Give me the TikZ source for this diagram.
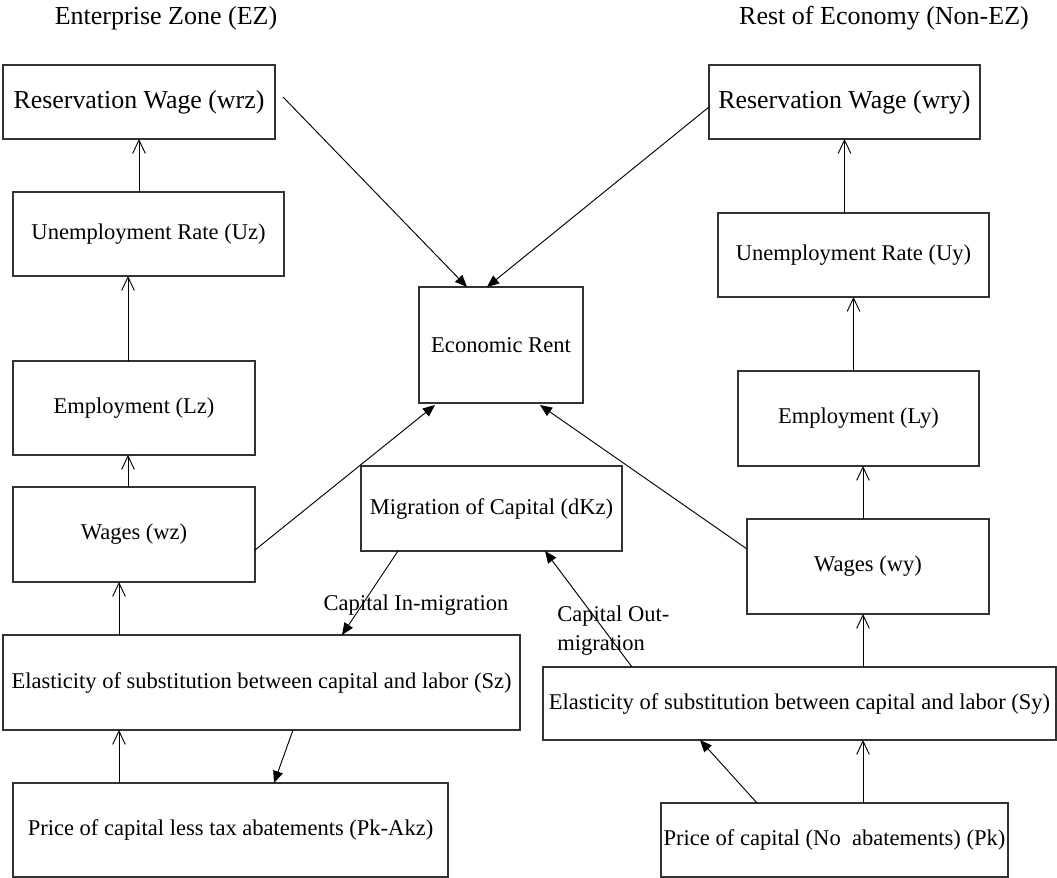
\documentclass[tikz,border=0pt]{standalone}
\usepackage{fontspec}
\setmainfont{Liberation Serif}
\usetikzlibrary{arrows.meta,calc}
\begin{document}
\begin{tikzpicture}[x=0.75pt,y=-0.75pt,
  box/.style={draw=black!80,line width=1pt,rectangle,inner sep=0pt,outer sep=0pt,align=center,font=\fontsize{16.9}{20}\selectfont},
  rwbox/.style={box,font=\fontsize{19.4}{23}\selectfont},
  oarr/.style={draw=black,line width=0.7pt,-{Straight Barb[length=10pt,width=9.5pt,line width=0.7pt]}},
  farr/.style={draw=black,line width=0.7pt,-{Triangle[length=9pt,width=7.5pt]}},
  lbl/.style={inner sep=0pt,font=\fontsize{16.9}{21.75}\selectfont},
  ttl/.style={inner sep=0pt,font=\fontsize{19.5}{23}\selectfont}]
\useasboundingbox (0,0) rectangle (1057,878);

\node[ttl] (t1) at (166,18) {Enterprise Zone (EZ)};
\node[ttl] (t2) at (884,18) {Rest of Economy (Non-EZ)};

\node[rwbox,minimum width={272*0.75pt},minimum height={74*0.75pt}] (wrz) at (139,102) {Reservation Wage (wrz)};
\node[rwbox,minimum width={271*0.75pt},minimum height={74*0.75pt}] (wry) at (844.5,102) {Reservation Wage (wry)};
\node[box,minimum width={271*0.75pt},minimum height={84*0.75pt}] (Uz) at (148.5,234) {Unemployment Rate (Uz)};
\node[box,minimum width={271*0.75pt},minimum height={84*0.75pt}] (Uy) at (853.5,255) {Unemployment Rate (Uy)};
\node[box,minimum width={242*0.75pt},minimum height={94*0.75pt}] (Lz) at (134,408) {Employment (Lz)};
\node[box,minimum width={241*0.75pt},minimum height={95*0.75pt}] (Ly) at (858.5,418.5) {Employment (Ly)};
\node[box,minimum width={242*0.75pt},minimum height={95*0.75pt}] (wz) at (134,534.5) {Wages (wz)};
\node[box,minimum width={242*0.75pt},minimum height={95*0.75pt}] (wy) at (868,566.5) {Wages (wy)};
\node[box,minimum width={164*0.75pt},minimum height={116*0.75pt}] (ER) at (501,345) {Economic Rent};
\node[box,minimum width={261*0.75pt},minimum height={85*0.75pt}] (Mig) at (491.5,508.5) {Migration of Capital (dKz)};
\node[box,minimum width={517*0.75pt},minimum height={95*0.75pt}] (Sz) at (261.5,682.5) {Elasticity of substitution between capital and labor (Sz)};
\node[box,minimum width={513*0.75pt},minimum height={73*0.75pt}] (Sy) at (799.5,703.5) {Elasticity of substitution between capital and labor (Sy)};
\node[box,minimum width={435*0.75pt},minimum height={94*0.75pt}] (Pkz) at (230.5,830) {Price of capital less tax abatements (Pk-Akz)};
\node[box,minimum width={347*0.75pt},minimum height={74*0.75pt}] (Pk) at (834.5,840) {Price of capital (No\ \ abatements) (Pk)};

\node[lbl] (lin) at (416,605) {Capital In-migration};
\node[lbl,anchor=north west,align=left] (lout) at (557,606) {Capital Out-\\migration};

% column x positions
\coordinate (cA) at (128,0);
\coordinate (cB) at (119,0);
\coordinate (cC) at (863,0);

% vertical open arrows
\draw[oarr] (wrz.south |- Uz.north) -- (wrz.south);
\draw[oarr] (cA |- Lz.north) -- (cA |- Uz.south);
\draw[oarr] (cA |- wz.north) -- (cA |- Lz.south);
\draw[oarr] (cB |- Sz.north) -- (cB |- wz.south);
\draw[oarr] (cB |- Pkz.north) -- (cB |- Sz.south);
\draw[oarr] (wry.south |- Uy.north) -- (wry.south);
\draw[oarr] (Uy.south |- Ly.north) -- (Uy.south);
\draw[oarr] (cC |- wy.north) -- (cC |- Ly.south);
\draw[oarr] (cC |- Sy.north) -- (cC |- wy.south);
\draw[oarr] (cC |- Pk.north) -- (cC |- Sy.south);

% filled arrows
\draw[farr] ($(wrz.east)+(8,-5)$) -- ($(ER.north)+(-34,0)$);
\draw[farr] ($(wry.west)+(0,5)$) -- ($(ER.north)+(-14,0)$);
\draw[farr] ($(wz.east)+(0,15.5)$) -- ($(ER.south)+(-66,2)$);
\draw[farr] ($(wy.west)+(0,-17.5)$) -- ($(ER.south)+(39,2)$);
\draw[farr] ($(Mig.south)+(-93.5,0)$) -- ($(Sz.north)+(80.5,0)$);
\draw[farr] ($(Sy.north)+(-167.5,0)$) -- ($(Mig.south)+(53.5,0)$);
\draw[farr] ($(Sz.south)+(31.5,0)$) -- ($(Pkz.north)+(43.5,0)$);
\draw[farr] ($(Pk.north)+(-77.5,0)$) -- ($(Sy.south)+(-99.5,0)$);
\end{tikzpicture}
\end{document}
